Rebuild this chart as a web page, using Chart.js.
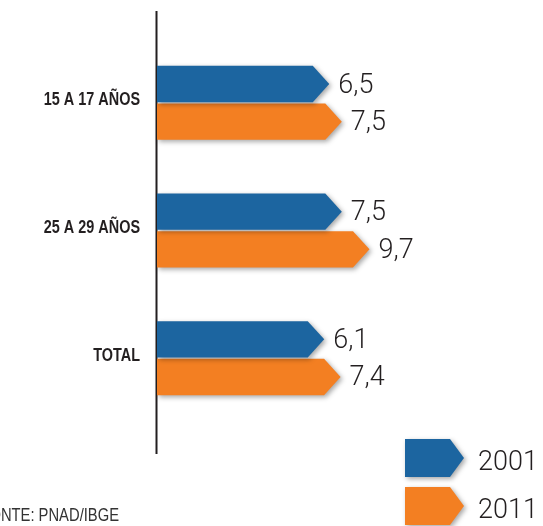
<!DOCTYPE html>
<html><head><meta charset="utf-8">
<script src="https://cdn.jsdelivr.net/npm/chart.js@4.4.1/dist/chart.umd.min.js"></script>
<style>html,body{margin:0;padding:0;background:#fff;overflow:hidden}#wrap{width:543px;height:526px;position:relative}canvas{display:block}</style>
</head><body><div id="wrap"><canvas id="c" width="543" height="526"></canvas></div>
<script>
// ---- data ----
const categories = ['15 A 17 AÑOS', '25 A 29 AÑOS', 'TOTAL'];
const seriesNames = ['2001', '2011'];
const values2001 = [6.5, 7.5, 6.1];
const values2011 = [7.5, 9.7, 7.4];
const sourceText = 'FONTE: PNAD/IBGE';
const seriesColors = ['#1c65a0', '#f37f22'];
const xMin = -7.2, xMax = 23.5;

const TEXT = '#231f20';
const SANS = "'Liberation Sans', Arial, sans-serif";
const LIGHT = "Roboto, 'Open Sans', Arial, sans-serif";

function arrowPath(ctx, left, right, top, bottom, depth) {
  const mid = (top + bottom) / 2;
  ctx.beginPath();
  ctx.moveTo(left, top);
  ctx.lineTo(right - depth, top);
  ctx.lineTo(right, mid);
  ctx.lineTo(right - depth, bottom);
  ctx.lineTo(left, bottom);
  ctx.closePath();
}

function condensedText(ctx, text, x, y, align, sx) {
  ctx.save();
  ctx.translate(x, y);
  ctx.scale(sx, 1);
  ctx.textAlign = align;
  ctx.textBaseline = 'alphabetic';
  ctx.fillText(text, 0, 0);
  ctx.restore();
}

const arrowBars = {
  id: 'arrowBars',
  beforeDatasetsDraw(chart) {
    const ctx = chart.ctx;
    const area = chart.chartArea;
    // vertical axis line
    ctx.save();
    ctx.strokeStyle = TEXT;
    ctx.lineWidth = 2;
    ctx.beginPath();
    ctx.moveTo(area.left - 0.5, 11);
    ctx.lineTo(area.left - 0.5, 454);
    ctx.stroke();
    ctx.restore();

    // category labels from the y scale's ticks (condensed bold)
    const ys = chart.scales.y;
    ctx.save();
    ctx.fillStyle = TEXT;
    ctx.font = 'bold 18.5px ' + SANS;
    ys.ticks.forEach((t, i) => {
      const py = ys.getPixelForTick(i);
      condensedText(ctx, ys.getLabelForValue(t.value), area.left - 17, py + 2.5, 'right', 0.78);
    });
    ctx.restore();

    const order = [];
    for (let d = chart.data.datasets.length - 1; d >= 0; d--) order.push(d);
    // bars (lower series first so the upper bar's shadow falls on it)
    order.forEach(d => {
      const ds = chart.data.datasets[d];
      const meta = chart.getDatasetMeta(d);
      meta.data.forEach(el => {
        const p = el.getProps(['x', 'y', 'base', 'height'], true);
        const top = p.y - p.height / 2, bottom = p.y + p.height / 2;
        ctx.save();
        ctx.shadowColor = 'rgba(0,0,0,0.35)';
        ctx.shadowBlur = 5;
        ctx.shadowOffsetX = 2;
        ctx.shadowOffsetY = 2;
        ctx.fillStyle = ds.backgroundColor;
        arrowPath(ctx, p.base, p.x, top, bottom, 16.5);
        ctx.fill();
        ctx.restore();
      });
    });
    // value labels
    chart.data.datasets.forEach((ds, d) => {
      const meta = chart.getDatasetMeta(d);
      meta.data.forEach((el, i) => {
        const p = el.getProps(['x', 'y'], true);
        ctx.save();
        ctx.fillStyle = TEXT;
        ctx.font = '300 27px ' + LIGHT;
        ctx.textAlign = 'left';
        ctx.textBaseline = 'alphabetic';
        ctx.fillText(String(ds.data[i]).replace('.', ','), p.x + 9, p.y + 8.5);
        ctx.restore();
      });
    });
    return false;
  },
  afterDraw(chart) {
    const ctx = chart.ctx;
    // legend
    chart.data.datasets.forEach((ds, d) => {
      const top = 439 + d * 48;
      ctx.save();
      ctx.shadowColor = 'rgba(0,0,0,0.35)';
      ctx.shadowBlur = 5;
      ctx.shadowOffsetX = 2;
      ctx.shadowOffsetY = 2;
      ctx.fillStyle = ds.backgroundColor;
      arrowPath(ctx, 405, 464, top, top + 38, 14);
      ctx.fill();
      ctx.restore();
      ctx.save();
      ctx.fillStyle = TEXT;
      ctx.font = '300 27px ' + LIGHT;
      ctx.textBaseline = 'alphabetic';
      ctx.textAlign = 'left';
      ctx.fillText(ds.label, 478, top + 31);
      ctx.restore();
    });
    // source
    ctx.save();
    ctx.fillStyle = '#333';
    ctx.font = '18px ' + SANS;
    condensedText(ctx, sourceText, 119, 521, 'right', 0.82);
    ctx.restore();
  }
};

function build() {
  new Chart(document.getElementById('c'), {
    type: 'bar',
    data: {
      labels: categories,
      datasets: [
        { label: seriesNames[0], data: values2001, backgroundColor: seriesColors[0], base: xMin },
        { label: seriesNames[1], data: values2011, backgroundColor: seriesColors[1], base: xMin }
      ]
    },
    options: {
      indexAxis: 'y',
      responsive: false,
      animation: false,
      devicePixelRatio: 1,
      categoryPercentage: 0.59,
      barPercentage: 0.964,
      layout: { padding: { top: 39, bottom: 104, left: 0, right: 0 } },
      plugins: { legend: { display: false }, tooltip: { enabled: false } },
      scales: {
        x: { type: 'linear', min: xMin, max: xMax, display: false },
        y: {
          type: 'category',
          offset: true,
          grid: { display: false, drawTicks: false },
          border: { display: false },
          ticks: { display: false },
          afterFit: s => { s.width = 157; }
        }
      }
    },
    plugins: [arrowBars]
  });
}
const fontLoads = ['300 27px Roboto', 'bold 18px "Liberation Sans"', '17px "Liberation Sans"'].map(f => document.fonts.load(f).catch(() => null));
Promise.all(fontLoads).then(build, build);
</script>
</body></html>
